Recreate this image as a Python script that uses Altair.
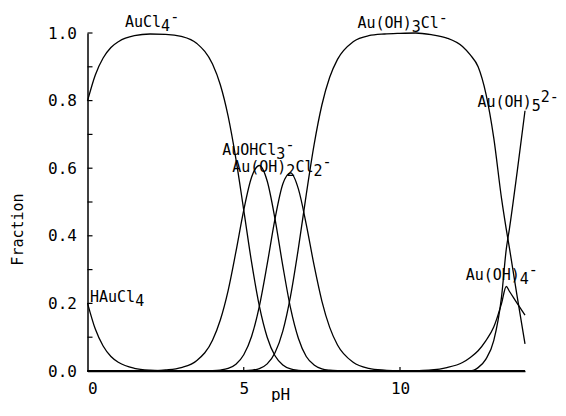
import altair as alt
import pandas as pd

# ---------------- data ----------------
ph = [0, 0.25, 0.5, 0.75, 1, 1.5, 2, 2.5, 3, 3.5,
      4, 4.25, 4.5, 4.75, 5, 5.25, 5.5, 5.75, 6, 6.25,
      6.5, 6.75, 7, 7.25, 7.5, 7.75, 8, 8.5, 9, 9.5,
      10, 10.5, 11, 11.5, 12, 12.25, 12.5, 12.75, 13, 13.25,
      13.4, 13.5, 13.75, 14]

hauCl4 = [0.201, 0.124, 0.074, 0.043, 0.025, 0.008, 0.0025, 0.001, 0, 0,
          0, 0, 0, 0, 0, 0, 0, 0, 0, 0,
          0, 0, 0, 0, 0, 0, 0, 0, 0, 0,
          0, 0, 0, 0, 0, 0, 0, 0, 0, 0,
          0, 0, 0, 0]

auCl4 = [0.799, 0.876, 0.926, 0.957, 0.975, 0.992, 0.997, 0.996, 0.990, 0.969,
         0.908, 0.847, 0.754, 0.627, 0.476, 0.322, 0.192, 0.100, 0.045, 0.018,
         0.006, 0.002, 0.0004, 0, 0, 0, 0, 0, 0, 0,
         0, 0, 0, 0, 0, 0, 0, 0, 0, 0,
         0, 0, 0, 0]

auOHCl3 = [0, 0, 0, 0, 0, 0, 0.0003, 0.003, 0.010, 0.031,
           0.091, 0.151, 0.238, 0.353, 0.476, 0.573, 0.608, 0.562, 0.450, 0.311,
           0.185, 0.096, 0.043, 0.018, 0.0065, 0.0023, 0.0008, 0, 0, 0,
           0, 0, 0, 0, 0, 0, 0, 0, 0, 0,
           0, 0, 0, 0]

auOH2Cl2 = [0, 0, 0, 0, 0, 0, 0, 0, 0, 0.0001,
            0.001, 0.0027, 0.0075, 0.020, 0.048, 0.102, 0.192, 0.316, 0.450, 0.553,
            0.586, 0.538, 0.434, 0.313, 0.207, 0.129, 0.077, 0.026, 0.008, 0.0026,
            0.0008, 0, 0, 0, 0, 0, 0, 0, 0, 0,
            0, 0, 0, 0]

auOH3Cl = [0, 0, 0, 0, 0, 0, 0, 0, 0, 0,
           0, 0, 0, 0.0001, 0.0006, 0.0022, 0.0073, 0.021, 0.054, 0.118,
           0.223, 0.364, 0.522, 0.669, 0.787, 0.869, 0.922, 0.974, 0.992, 0.997,
           0.999, 1.0, 0.995, 0.985, 0.96, 0.935, 0.90, 0.82, 0.69, 0.51,
           0.42, 0.365, 0.22, 0.08]

auOH4 = [0, 0, 0, 0, 0, 0, 0, 0, 0, 0,
         0, 0, 0, 0, 0, 0, 0, 0, 0, 0,
         0, 0, 0, 0, 0, 0, 0, 0, 0, 0,
         0, 0.001, 0.003, 0.01, 0.025, 0.04, 0.06, 0.09, 0.13, 0.20,
         0.25, 0.236, 0.20, 0.165]

auOH5 = [0, 0, 0, 0, 0, 0, 0, 0, 0, 0,
         0, 0, 0, 0, 0, 0, 0, 0, 0, 0,
         0, 0, 0, 0, 0, 0, 0, 0, 0, 0,
         0, 0, 0, 0, 0, 0, 0.01, 0.035, 0.09, 0.22,
         0.36, 0.42, 0.59, 0.77]

y_label_values = [0.0, 0.2, 0.4, 0.6, 0.8, 1.0]
y_tick_values = [0.1, 0.2, 0.3, 0.4, 0.5, 0.6, 0.7, 0.8, 0.9, 1.0]
x_label_values = [0, 5, 10]
x_tick_values = [5, 10]

# label text pieces: (start pH, start fraction, [(text, kind)])
labels = [
    (1.20, 1.018, [("AuCl", "n"), ("4", "sub"), ("-", "sup")]),
    (0.08, 0.204, [("HAuCl", "n"), ("4", "sub")]),
    (4.31, 0.639, [("AuOHCl", "n"), ("3", "sub"), ("-", "sup")]),
    (4.63, 0.589, [("Au(OH)", "n"), ("2", "sub"), ("Cl", "n"), ("2", "sub"), ("-", "sup")]),
    (8.64, 1.015, [("Au(OH)", "n"), ("3", "sub"), ("Cl", "n"), ("-", "sup")]),
    (12.48, 0.781, [("Au(OH)", "n"), ("5", "sub"), ("2-", "sup")]),
    (12.10, 0.269, [("Au(OH)", "n"), ("4", "sub"), ("-", "sup")]),
]

# ---------------- build tables ----------------
series = {
    "HAuCl4": hauCl4, "AuCl4-": auCl4, "AuOHCl3-": auOHCl3,
    "Au(OH)2Cl2-": auOH2Cl2, "Au(OH)3Cl-": auOH3Cl,
    "Au(OH)4-": auOH4, "Au(OH)5 2-": auOH5,
}
rows = []
for name, vals in series.items():
    for p, v in zip(ph, vals):
        rows.append({"species": name, "pH": p, "frac": v})
df = pd.DataFrame(rows)

W, H = 437.5, 338
FONT = "DejaVu Sans Mono"
FS = 15
CHAR_PH = FS * 0.602 * 14 / W  # one character advance in pH units

lab_rows = []
for x0, y0, parts in labels:
    n = 0
    for txt, kind in parts:
        lab_rows.append({"pH": x0 + n * CHAR_PH, "frac": y0, "text": txt, "kind": kind})
        n += len(txt)
lab_df = pd.DataFrame(lab_rows)

x_scale = alt.Scale(domain=[0, 14], nice=False, zero=False)
y_scale = alt.Scale(domain=[0, 1], nice=False)

lines = alt.Chart(df).mark_line(color="black", strokeWidth=1.3, interpolate="monotone").encode(
    x=alt.X("pH:Q", scale=x_scale,
            axis=alt.Axis(values=x_label_values, format="d", title="pH", ticks=False, grid=False,
                          labelPadding=9, titleX=192.5, titleY=28, titleBaseline="alphabetic",
                          titleAlign="center", titleFontSize=16)),
    y=alt.Y("frac:Q", scale=y_scale,
            axis=alt.Axis(values=y_label_values, format=".1f", title="Fraction", ticks=False, grid=False,
                          labelPadding=11, titleX=-70.5, titleY=196, titleAngle=270,
                          titleAlign="center", titleBaseline="middle", titleFontSize=15)),
    detail="species:N",
)

ytick_df = pd.DataFrame({"frac": y_tick_values})
yticks = alt.Chart(ytick_df).mark_rule(color="black", strokeWidth=1.2).encode(
    y=alt.Y("frac:Q", scale=y_scale), x=alt.value(0), x2=alt.value(5))

xtick_df = pd.DataFrame({"pH": x_tick_values})
xticks = alt.Chart(xtick_df).mark_rule(color="black", strokeWidth=1.2).encode(
    x=alt.X("pH:Q", scale=x_scale), y=alt.value(H), y2=alt.value(H - 4))

def text_layer(kind, dy):
    return alt.Chart(lab_df).transform_filter(alt.datum.kind == kind).mark_text(
        font=FONT, fontSize=FS, align="left", baseline="alphabetic", color="black", dy=dy
    ).encode(x=alt.X("pH:Q", scale=x_scale), y=alt.Y("frac:Q", scale=y_scale), text="text:N")

chart = alt.layer(
    lines, yticks, xticks,
    text_layer("n", 0), text_layer("sub", 4), text_layer("sup", -5),
).properties(
    width=W, height=H,
    padding={"left": 79.5, "top": 25, "right": 33, "bottom": 31},
    autosize=alt.AutoSizeParams(type="none"),
    background="white",
).configure_view(stroke=None).configure_axis(
    domainColor="black", domainWidth=1.5,
    labelFont=FONT, labelFontSize=16, labelColor="black",
    titleFont=FONT, titleColor="black", titleFontWeight="normal",
)

chart.save("out.html", embed_options={"renderer": "svg", "actions": False})
